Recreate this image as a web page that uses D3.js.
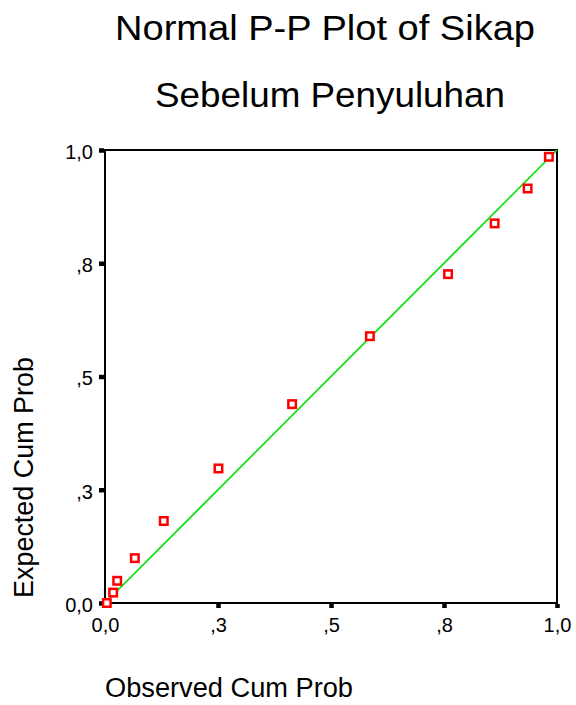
<!DOCTYPE html>
<html>
<head>
<meta charset="utf-8">
<script src="https://cdn.jsdelivr.net/npm/d3@7"></script>
<style>
  html, body { margin: 0; padding: 0; background: #fff; }
  svg { display: block; font-family: Arial, "Liberation Sans", sans-serif; }
</style>
</head>
<body>
<svg id="chart" width="576" height="705"></svg>
<script>
// Observed vs expected cumulative probabilities
const observed = [0.004, 0.018, 0.027, 0.066, 0.130, 0.251, 0.414, 0.586, 0.759, 0.862, 0.935, 0.982];
const expected = [0.000, 0.023, 0.049, 0.099, 0.181, 0.297, 0.439, 0.589, 0.726, 0.838, 0.915, 0.985];
const tickValues = [0, 0.25, 0.5, 0.75, 1.0];
const tickLabels = ["0,0", ",3", ",5", ",8", "1,0"];
const titleLines = ["Normal P-P Plot of Sikap", "Sebelum Penyuluhan"];

const svg = d3.select("#chart");
const plotLeft = 105, plotRight = 557, plotTop = 150, plotBottom = 603;

const x = d3.scaleLinear().domain([0, 1]).range([plotLeft, plotRight]);
const y = d3.scaleLinear().domain([0, 1]).range([plotBottom, plotTop]);

// Two-line title, set a little wide
const titleLayout = [
  { cx: 325, base: 40, len: 420 },
  { cx: 330, base: 107, len: 350 }
];
svg.selectAll("text.title").data(titleLines).join("text")
  .attr("class", "title")
  .attr("x", (d, i) => titleLayout[i].cx)
  .attr("y", (d, i) => titleLayout[i].base)
  .attr("text-anchor", "middle")
  .attr("font-size", 35)
  .attr("textLength", (d, i) => titleLayout[i].len)
  .attr("lengthAdjust", "spacingAndGlyphs")
  .attr("fill", "#000")
  .text(d => d);

// Frame
svg.append("rect")
  .attr("x", plotLeft).attr("y", plotTop)
  .attr("width", plotRight - plotLeft).attr("height", plotBottom - plotTop)
  .attr("fill", "none").attr("stroke", "#000").attr("stroke-width", 2);

// Axes with short heavy ticks
const labelFor = d => tickLabels[tickValues.indexOf(d)];
const xAxis = d3.axisBottom(x).tickValues(tickValues).tickFormat(labelFor).tickSize(4).tickPadding(10);
const yAxis = d3.axisLeft(y).tickValues(tickValues).tickFormat(labelFor).tickSize(5).tickPadding(6);

const gx = svg.append("g").attr("transform", `translate(0,${plotBottom + 1})`).call(xAxis);
const gy = svg.append("g").attr("transform", `translate(${plotLeft - 1},0)`).call(yAxis);
[gx, gy].forEach(g => {
  g.select(".domain").remove();
  g.selectAll(".tick line").attr("stroke", "#000").attr("stroke-width", 4.5);
  g.selectAll(".tick text").attr("font-size", 20).attr("fill", "#000")
    .attr("font-family", "Arial, 'Liberation Sans', sans-serif");
});
gy.selectAll(".tick text").attr("dy", "0.42em");

// Reference diagonal
svg.append("line")
  .attr("x1", x(0)).attr("y1", y(0))
  .attr("x2", x(1)).attr("y2", y(1))
  .attr("stroke", "#00e000").attr("stroke-width", 1.7);

// Points
const pts = observed.map((o, i) => ({ o, e: expected[i] }));
svg.selectAll("rect.pt").data(pts).join("rect")
  .attr("class", "pt")
  .attr("x", d => x(d.o) - 3.75).attr("y", d => y(d.e) - 3.75)
  .attr("width", 7.5).attr("height", 7.5)
  .attr("fill", "#fff").attr("stroke", "#ff0000").attr("stroke-width", 2.5);

// Axis titles
svg.append("text")
  .attr("x", 229).attr("y", 697)
  .attr("text-anchor", "middle")
  .attr("font-size", 27)
  .attr("textLength", 248).attr("lengthAdjust", "spacingAndGlyphs")
  .attr("fill", "#000")
  .text("Observed Cum Prob");

svg.append("text")
  .attr("transform", "translate(33,477.5) rotate(-90)")
  .attr("text-anchor", "middle")
  .attr("font-size", 27)
  .attr("textLength", 241).attr("lengthAdjust", "spacingAndGlyphs")
  .attr("fill", "#000")
  .text("Expected Cum Prob");
</script>
</body>
</html>
